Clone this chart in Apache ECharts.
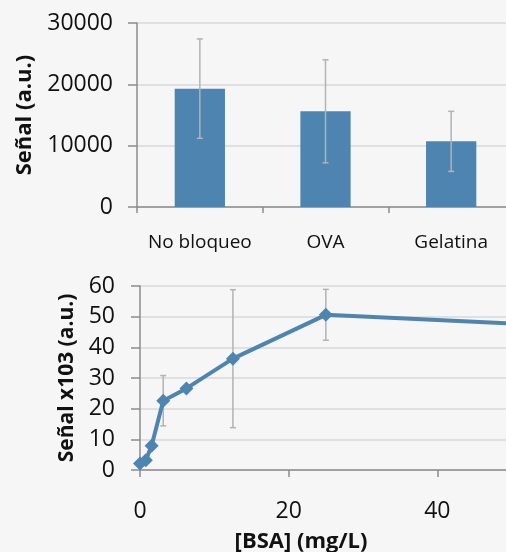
<!DOCTYPE html>
<html>
<head>
<meta charset="utf-8">
<script src="https://cdn.jsdelivr.net/npm/echarts@6/dist/echarts.min.js"></script>
<style>
  html, body { margin: 0; background: #f6f6f6; }
  #main { width: 506px; height: 552px; }
</style>
</head>
<body>
<div id="main"></div>
<script>
  // panel A: blocking agents
  var categories = ['No bloqueo', 'OVA', 'Gelatina'];
  var barValues = [19300, 15600, 10700];
  var barErrors = [8100, 8400, 4900];

  // panel B: BSA titration
  var bsaConc = [0, 0.78, 1.56, 3.125, 6.25, 12.5, 25, 50];
  var signal = [2.1, 3.2, 7.9, 22.6, 26.6, 36.3, 50.6, 47.8];
  var signalErr = [0, 0, 0, 8.2, 0, 22.5, 8.3, 0];

  var FONT = '"Open Sans", "DejaVu Sans", sans-serif';
  var TEXT = '#111';
  var AXIS_COLOR = '#8c8c8c';
  var GRID_COLOR = '#d8d8d8';
  var ERR_COLOR = '#b3b3b3';
  var BLUE = '#4e84b0';

  var barErrData = categories.map(function (c, i) {
    return [i, barValues[i] - barErrors[i], barValues[i] + barErrors[i]];
  });
  var lineData = bsaConc.map(function (x, i) { return [x, signal[i]]; });
  var lineErrData = [];
  bsaConc.forEach(function (x, i) {
    if (signalErr[i] > 0) {
      lineErrData.push([x, signal[i] - signalErr[i], signal[i] + signalErr[i]]);
    }
  });

  function errorBar(params, api) {
    var x = api.value(0);
    var top = api.coord([x, api.value(2)]);
    var bot = api.coord([x, api.value(1)]);
    var w = 3;
    var st = { stroke: ERR_COLOR, lineWidth: 1.5 };
    return {
      type: 'group',
      children: [
        { type: 'line', shape: { x1: top[0], y1: top[1], x2: bot[0], y2: bot[1] }, style: st },
        { type: 'line', shape: { x1: top[0] - w, y1: top[1], x2: top[0] + w, y2: top[1] }, style: st },
        { type: 'line', shape: { x1: bot[0] - w, y1: bot[1], x2: bot[0] + w, y2: bot[1] }, style: st }
      ]
    };
  }

  var chart = echarts.init(document.getElementById('main'));

  chart.setOption({
    backgroundColor: '#f6f6f6',
    animation: false,
    textStyle: { fontFamily: FONT },
    title: [{
      text: '[BSA] (mg/L)',
      left: 296,
      top: 526,
      textAlign: 'center',
      textStyle: { fontFamily: FONT, fontSize: 22, fontWeight: 'bold', color: TEXT }
    }],
    grid: [
      { left: 137, top: 23, width: 377, height: 184, outerBoundsMode: 'none' },
      { left: 140, top: 286, width: 446, height: 184, outerBoundsMode: 'none' }
    ],
    xAxis: [{
      gridIndex: 0,
      type: 'category',
      data: categories,
      boundaryGap: true,
      axisLine: { lineStyle: { color: AXIS_COLOR, width: 1.5 } },
      axisTick: { show: true, length: 6, lineStyle: { color: AXIS_COLOR, width: 1.5 } },
      axisLabel: { interval: 0, margin: 26, fontSize: 19, color: TEXT, fontFamily: FONT }
    }, {
      gridIndex: 1,
      type: 'value',
      min: 0,
      max: 60,
      interval: 20,
      splitLine: { show: false },
      axisLine: { lineStyle: { color: AXIS_COLOR, width: 1.5 } },
      axisTick: { show: true, length: 7, lineStyle: { color: AXIS_COLOR, width: 1.5 } },
      axisLabel: { margin: 30, fontSize: 23, color: TEXT, fontFamily: FONT }
    }],
    yAxis: [{
      gridIndex: 0,
      type: 'value',
      min: 0,
      max: 30000,
      interval: 10000,
      name: 'Señal (a.u.)',
      nameLocation: 'middle',
      nameGap: 101,
      nameTextStyle: { fontFamily: FONT, fontSize: 22, fontWeight: 'bold', color: TEXT },
      axisLine: { show: true, lineStyle: { color: AXIS_COLOR, width: 1.5 } },
      axisTick: { show: true, length: 9, lineStyle: { color: AXIS_COLOR, width: 1.5 } },
      splitLine: { lineStyle: { color: GRID_COLOR, width: 1.5 } },
      axisLabel: {
        margin: 24, fontSize: 23, color: TEXT, fontFamily: FONT,
        formatter: function (v) { return String(v); }
      }
    }, {
      gridIndex: 1,
      type: 'value',
      min: 0,
      max: 60,
      interval: 10,
      name: 'Señal x103 (a.u.)',
      nameLocation: 'middle',
      nameGap: 60,
      nameTextStyle: { fontFamily: FONT, fontSize: 21, fontWeight: 'bold', color: TEXT },
      axisLine: { show: true, lineStyle: { color: AXIS_COLOR, width: 1.5 } },
      axisTick: { show: true, length: 9, lineStyle: { color: AXIS_COLOR, width: 1.5 } },
      splitLine: { lineStyle: { color: GRID_COLOR, width: 1.5 } },
      axisLabel: { margin: 25, fontSize: 23, color: TEXT, fontFamily: FONT }
    }],
    series: [{
      type: 'bar',
      xAxisIndex: 0,
      yAxisIndex: 0,
      data: barValues,
      barWidth: '40%',
      itemStyle: { color: BLUE },
      z: 2
    }, {
      type: 'custom',
      xAxisIndex: 0,
      yAxisIndex: 0,
      data: barErrData,
      renderItem: errorBar,
      z: 5
    }, {
      type: 'custom',
      xAxisIndex: 1,
      yAxisIndex: 1,
      data: lineErrData,
      renderItem: errorBar,
      z: 1
    }, {
      type: 'line',
      xAxisIndex: 1,
      yAxisIndex: 1,
      data: lineData,
      symbol: 'diamond',
      symbolSize: 14,
      lineStyle: { color: BLUE, width: 4 },
      itemStyle: { color: BLUE },
      z: 3
    }]
  });
</script>
</body>
</html>
